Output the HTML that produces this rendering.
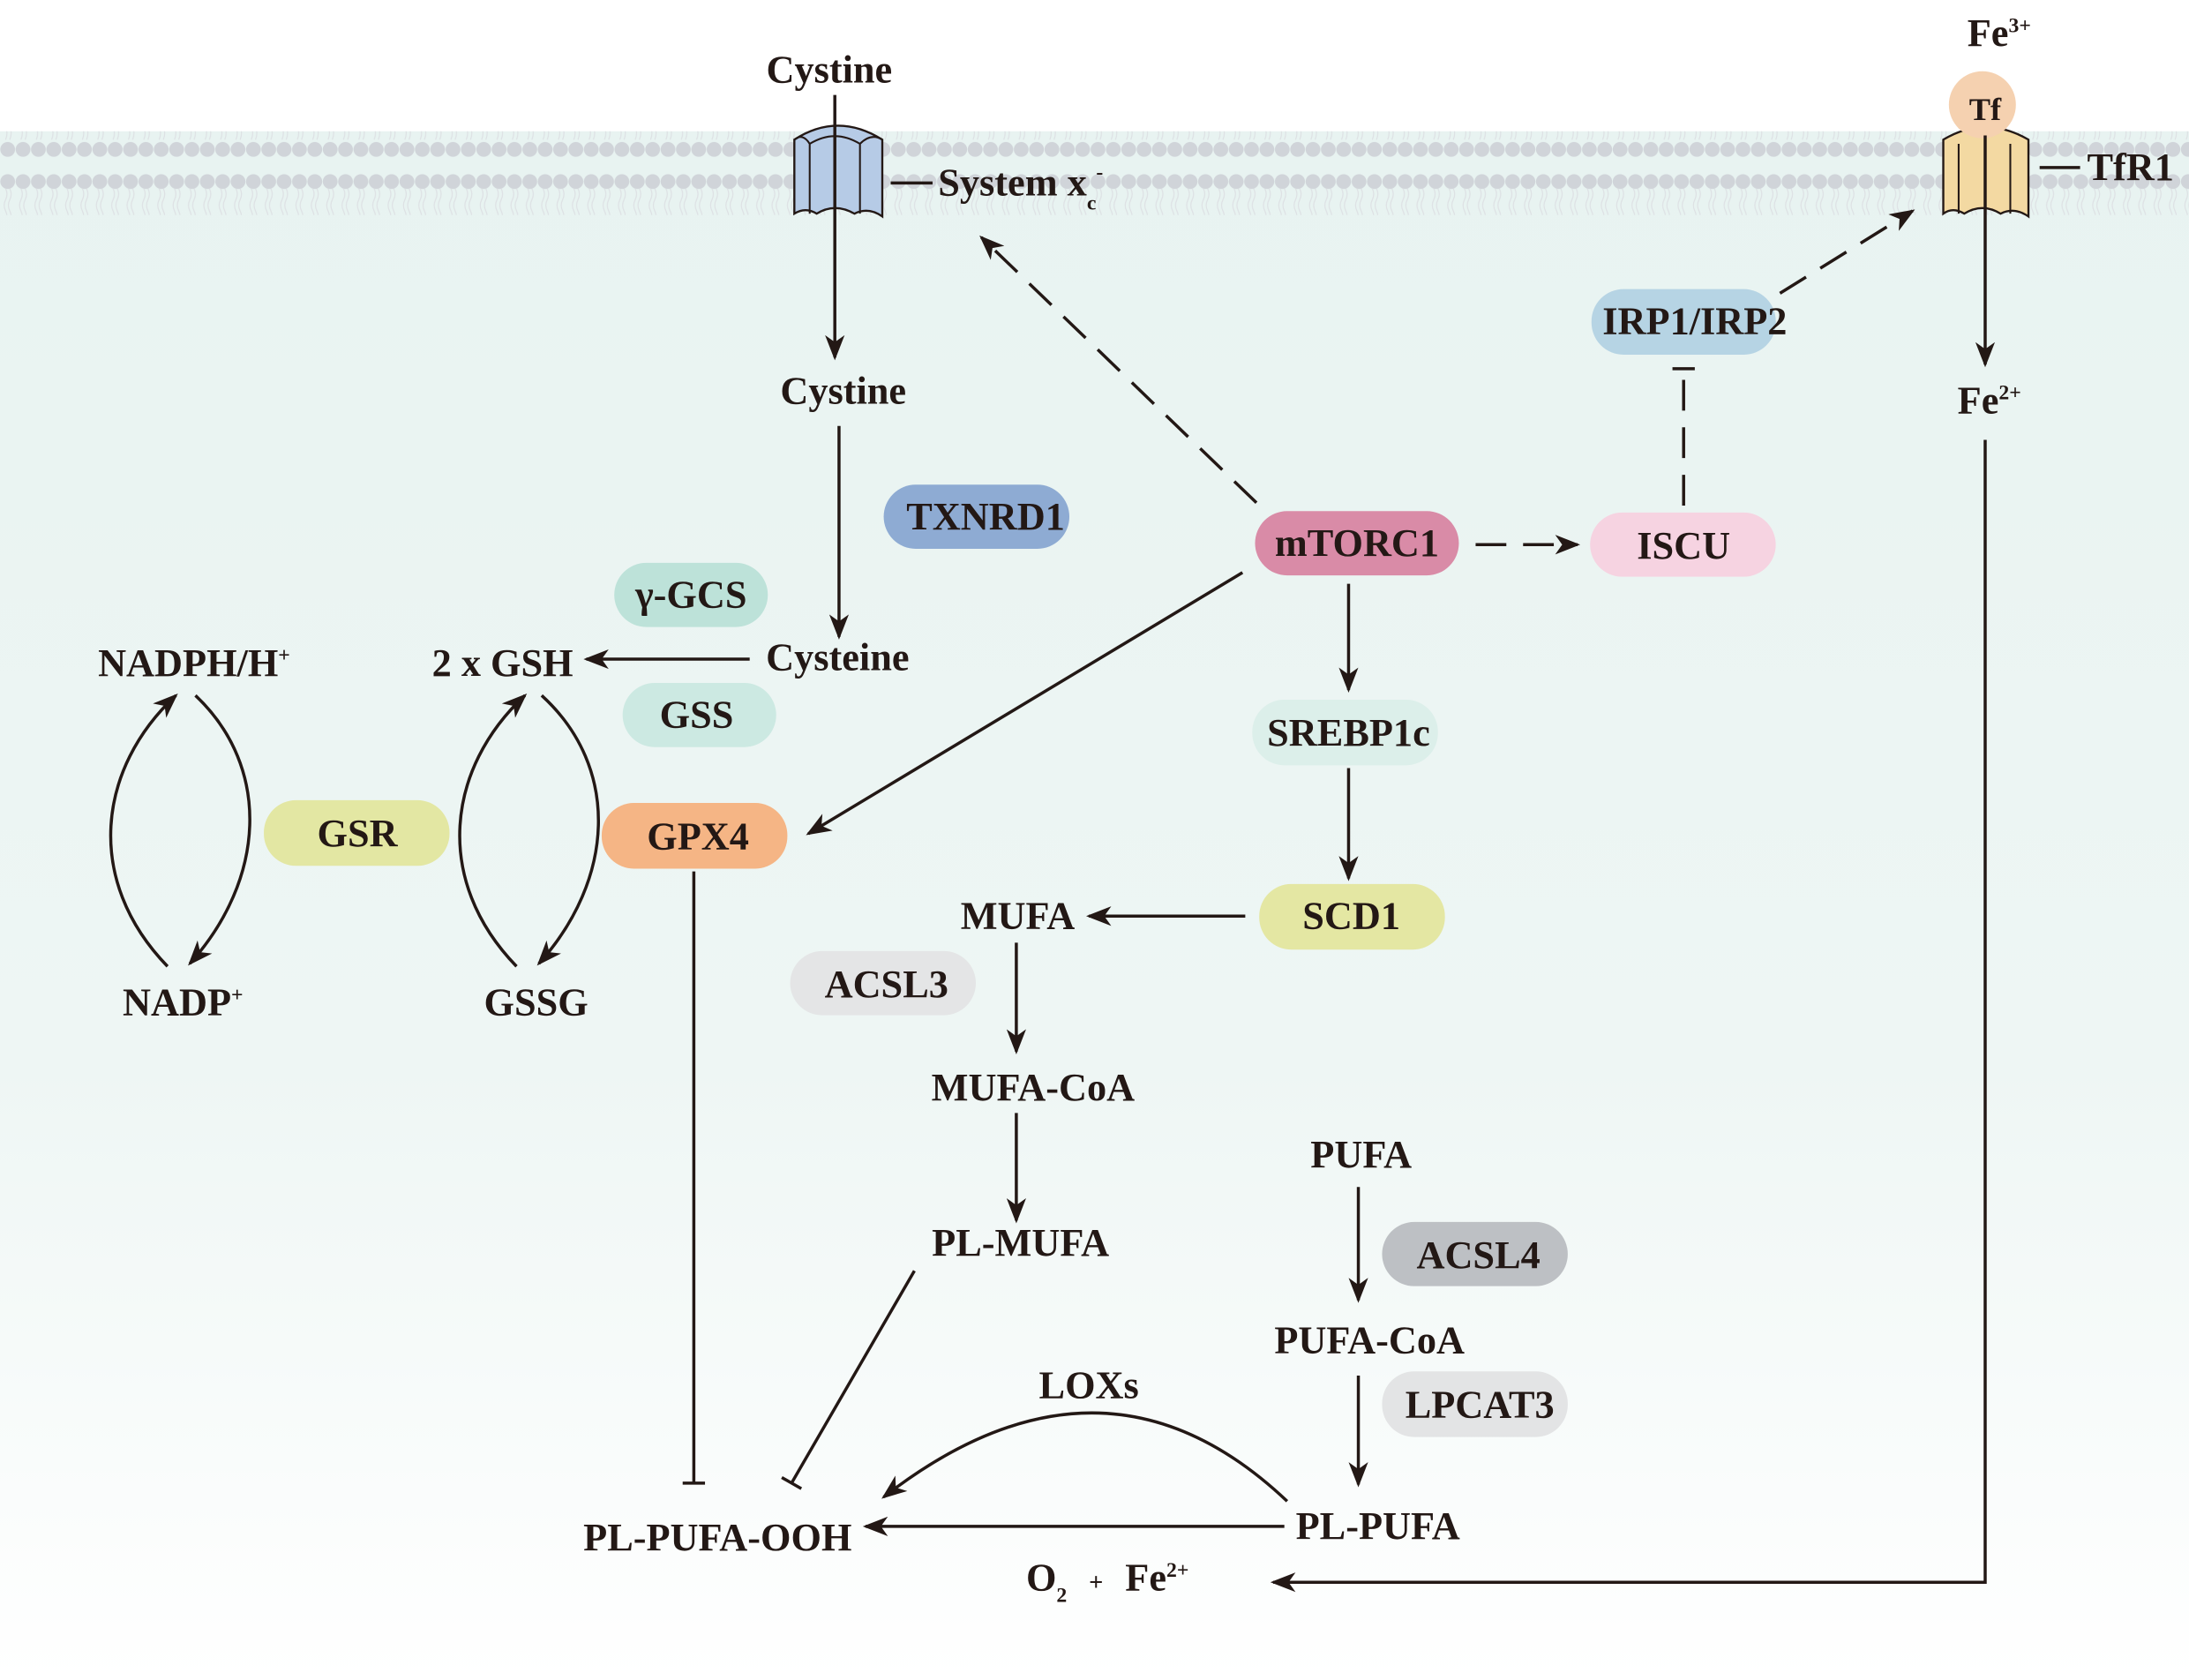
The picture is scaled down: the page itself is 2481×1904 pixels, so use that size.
<!DOCTYPE html>
<html><head><meta charset="utf-8"><style>
html,body{margin:0;padding:0;background:#fff}
svg{display:block}
text{font-family:"Liberation Serif",serif;font-weight:bold;fill:#231815;font-size:28px;text-anchor:middle}
</style></head><body>
<svg width="2481" height="1904" viewBox="0 0 1568 1203" preserveAspectRatio="none" xmlns="http://www.w3.org/2000/svg">
<defs>
<linearGradient id="bg" x1="0" y1="0" x2="0" y2="1">
<stop offset="0" stop-color="#e8f3f1"/><stop offset="0.6" stop-color="#eef6f4"/><stop offset="1" stop-color="#ffffff"/>
</linearGradient>
<marker id="ah" markerWidth="18" markerHeight="14" refX="16" refY="7" orient="auto" markerUnits="userSpaceOnUse">
<path d="M0,0 L18,7 L0,14 L5,7 Z" fill="#231815"/>
</marker>
<pattern id="heads" x="0" y="0" width="11" height="60" patternUnits="userSpaceOnUse">
<circle cx="5.5" cy="10" r="5.3" fill="#d0d4d9"/>
<circle cx="5.5" cy="47" r="5.3" fill="#d0d4d9"/>
<path d="M4,15 q2,4 0,8 q-2,4 0,8 q2,4 0,9 M7,15 q2,4 0,8 q-2,4 0,8 q2,4 0,9" stroke="#dde1e4" stroke-width="0.8" fill="none"/>
</pattern>
</defs>
<rect x="0" y="94" width="1568" height="1109" fill="url(#bg)"/>
<rect x="0" y="94" width="1568" height="60" fill="url(#heads)"/>

<g stroke="#231815" stroke-width="2.2" fill="none">
<path d="M569,100 Q600,80 632,100 L632,155 Q622,148 612,153 Q598,145 585,153 Q577,148 569,153 Z" fill="#b6cbe6" stroke-width="1.5"/>
<path d="M580,103 L580,153 M616,103 L616,153 M569,100 Q575,95 580,103 Q598,92 616,103 Q624,95 632,100" stroke-width="1.3"/>
<path d="M1392,100 Q1422,82 1453,100 L1453,155 Q1443,148 1433,153 Q1420,145 1407,153 Q1399,148 1392,153 Z" fill="#f3d9a2" stroke-width="1.5"/>
<path d="M1403,103 L1403,153 M1440,103 L1440,153" stroke-width="1.3"/>
</g>
<circle cx="1420" cy="75" r="24" fill="#f5d1b0"/>
<text x="1422" y="86" style="font-size:23px">Tf</text>

<g stroke="#231815" stroke-width="2.2" fill="none">
<line x1="598" y1="68" x2="598" y2="256" marker-end="url(#ah)"/>
<line x1="638" y1="131" x2="668" y2="131"/>
<line x1="1422" y1="97" x2="1422" y2="261" marker-end="url(#ah)"/>
<line x1="1461" y1="120" x2="1490" y2="120"/>
<line x1="601" y1="305" x2="601" y2="456" marker-end="url(#ah)"/>
<line x1="537" y1="472" x2="420" y2="472" marker-end="url(#ah)"/>
<path d="M120,692 C60,630 70,550 126,498" marker-end="url(#ah)"/>
<path d="M140,498 C195,550 190,630 136,690" marker-end="url(#ah)"/>
<path d="M370,692 C310,630 320,550 376,498" marker-end="url(#ah)"/>
<path d="M388,498 C445,550 440,630 386,690" marker-end="url(#ah)"/>
<line x1="900" y1="360" x2="703" y2="170" stroke-dasharray="22,12" marker-end="url(#ah)"/>
<line x1="1057" y1="390" x2="1130" y2="390" stroke-dasharray="22,12" marker-end="url(#ah)"/>
<line x1="1206" y1="362" x2="1206" y2="264" stroke-dasharray="22,12"/>
<line x1="1198" y1="264" x2="1214" y2="264"/>
<line x1="1275" y1="210" x2="1370" y2="151" stroke-dasharray="22,12" marker-end="url(#ah)"/>
<line x1="890" y1="410" x2="579" y2="597" marker-end="url(#ah)"/>
<line x1="966" y1="418" x2="966" y2="494" marker-end="url(#ah)"/>
<line x1="966" y1="550" x2="966" y2="629" marker-end="url(#ah)"/>
<line x1="892" y1="656" x2="780" y2="656" marker-end="url(#ah)"/>
<line x1="728" y1="675" x2="728" y2="753" marker-end="url(#ah)"/>
<line x1="728" y1="797" x2="728" y2="874" marker-end="url(#ah)"/>
<line x1="973" y1="850" x2="973" y2="931" marker-end="url(#ah)"/>
<line x1="973" y1="985" x2="973" y2="1063" marker-end="url(#ah)"/>
<line x1="920" y1="1093" x2="620" y2="1093" marker-end="url(#ah)"/>
<path d="M922,1075 Q790,950 633,1072" marker-end="url(#ah)"/>
<line x1="497" y1="624" x2="497" y2="1062"/>
<line x1="489" y1="1062" x2="505" y2="1062"/>
<line x1="655" y1="910" x2="567" y2="1062"/>
<line x1="560" y1="1058" x2="574" y2="1066"/>
<polyline points="1422,315 1422,1133 912,1133" marker-end="url(#ah)"/>
</g>

<g>
<rect x="633" y="347" width="133" height="46" rx="23" fill="#8eabd3"/>
<rect x="440" y="403" width="110" height="46" rx="23" fill="#bde2d9"/>
<rect x="446" y="489" width="110" height="46" rx="23" fill="#cce9e2"/>
<rect x="189" y="573" width="133" height="47" rx="23" fill="#e3e7a3"/>
<rect x="431" y="575" width="133" height="47" rx="23" fill="#f5b585"/>
<rect x="899" y="366" width="146" height="46" rx="23" fill="#d98ba7"/>
<rect x="1139" y="367" width="133" height="46" rx="23" fill="#f6d3e1"/>
<rect x="1140" y="207" width="132" height="47" rx="23" fill="#b6d4e4"/>
<rect x="897" y="501" width="133" height="47" rx="23" fill="#dcefea"/>
<rect x="902" y="633" width="133" height="47" rx="23" fill="#e4e7a3"/>
<rect x="566" y="681" width="133" height="46" rx="23" fill="#e4e5e6"/>
<rect x="990" y="875" width="133" height="46" rx="23" fill="#bdc0c4"/>
<rect x="990" y="982" width="133" height="47" rx="23" fill="#e3e4e5"/>
</g>

<text x="706" y="379">TXNRD1</text>
<text x="495" y="435">γ-GCS</text>
<text x="499" y="521">GSS</text>
<text x="256" y="606">GSR</text>
<text x="500" y="608">GPX4</text>
<text x="972" y="398">mTORC1</text>
<text x="1206" y="400">ISCU</text>
<text x="1214" y="239">IRP1/IRP2</text>
<text x="966" y="534">SREBP1c</text>
<text x="968" y="665">SCD1</text>
<text x="635" y="714">ACSL3</text>
<text x="1059" y="908">ACSL4</text>
<text x="1060" y="1015">LPCAT3</text>

<text x="594" y="59">Cystine</text>
<text x="672" y="140" style="text-anchor:start">System x<tspan dy="10" style="font-size:15px">c</tspan><tspan dy="-22" style="font-size:15px">-</tspan></text>
<text x="1495" y="129" style="text-anchor:start">TfR1</text>
<text x="1432" y="33">Fe<tspan dy="-10" style="font-size:15px">3+</tspan></text>
<text x="604" y="289">Cystine</text>
<text x="1425" y="296">Fe<tspan dy="-10" style="font-size:15px">2+</tspan></text>
<text x="600" y="480">Cysteine</text>
<text x="360" y="484">2 x GSH</text>
<text x="139" y="484">NADPH/H<tspan dy="-10" style="font-size:15px">+</tspan></text>
<text x="131" y="727">NADP<tspan dy="-10" style="font-size:15px">+</tspan></text>
<text x="384" y="727">GSSG</text>
<text x="729" y="665">MUFA</text>
<text x="740" y="788">MUFA-CoA</text>
<text x="731" y="899">PL-MUFA</text>
<text x="975" y="836">PUFA</text>
<text x="981" y="969">PUFA-CoA</text>
<text x="987" y="1102">PL-PUFA</text>
<text x="514" y="1110">PL-PUFA-OOH</text>
<text x="780" y="1001">LOXs</text>
<text x="735" y="1139" style="text-anchor:start">O<tspan dy="8" style="font-size:15px">2</tspan><tspan x="780" dy="-8" style="font-size:18px">+</tspan><tspan x="806">Fe</tspan><tspan dy="-10" style="font-size:15px">2+</tspan></text>
</svg>
</body></html>
